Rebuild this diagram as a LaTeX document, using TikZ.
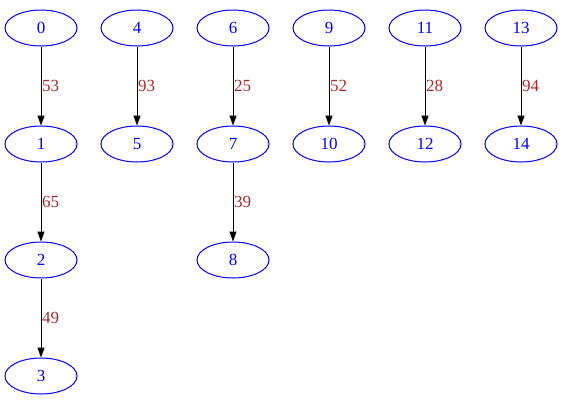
\documentclass[tikz,border=0pt]{standalone}
\usepackage{fontspec}
\setmainfont{Liberation Serif}
\usetikzlibrary{shapes.geometric,arrows.meta}
\definecolor{lbl}{HTML}{A52A2A}
\begin{document}
\begin{tikzpicture}[x=1pt,y=-1pt,
  vnode/.style={ellipse,draw=blue,text=blue,line width=1pt,minimum width=72pt,minimum height=36pt,inner sep=0pt,font=\fontsize{17}{19}\selectfont},
  edge/.style={draw=black,line width=1pt,-{Triangle[width=7pt,length=10pt]}},
  elbl/.style={text=lbl,font=\fontsize{17}{19}\selectfont,right,inner sep=0pt,xshift=0.5pt}]
\useasboundingbox (0,0) rectangle (563,407);
\node[vnode] (n0) at (41,28) {0};
\node[vnode] (n1) at (41,144) {1};
\node[vnode] (n2) at (41,260) {2};
\node[vnode] (n3) at (41,376) {3};
\node[vnode] (n4) at (137,28) {4};
\node[vnode] (n5) at (137,144) {5};
\node[vnode] (n6) at (233,28) {6};
\node[vnode] (n7) at (233,144) {7};
\node[vnode] (n8) at (233,260) {8};
\node[vnode] (n9) at (329,28) {9};
\node[vnode] (n10) at (329,144) {10};
\node[vnode] (n11) at (425,28) {11};
\node[vnode] (n12) at (425,144) {12};
\node[vnode] (n13) at (521,28) {13};
\node[vnode] (n14) at (521,144) {14};
\draw[edge] (n0) -- node[elbl] {53} (n1);
\draw[edge] (n1) -- node[elbl] {65} (n2);
\draw[edge] (n2) -- node[elbl] {49} (n3);
\draw[edge] (n4) -- node[elbl] {93} (n5);
\draw[edge] (n6) -- node[elbl] {25} (n7);
\draw[edge] (n7) -- node[elbl] {39} (n8);
\draw[edge] (n9) -- node[elbl] {52} (n10);
\draw[edge] (n11) -- node[elbl] {28} (n12);
\draw[edge] (n13) -- node[elbl] {94} (n14);
\end{tikzpicture}
\end{document}
